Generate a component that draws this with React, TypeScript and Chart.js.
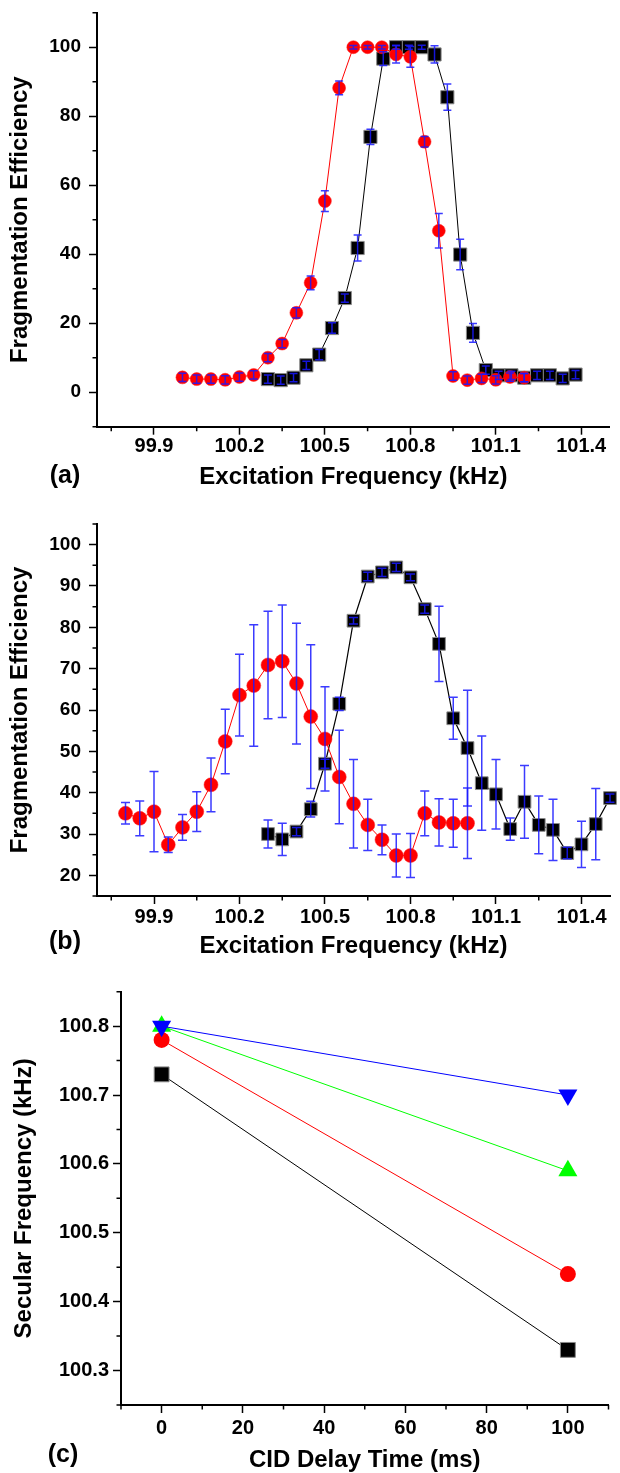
import React, { useEffect, useRef } from "react";
import { Chart, registerables } from "chart.js";

Chart.register(...registerables);

const FONT = "'Liberation Sans', Arial, Helvetica, sans-serif";

// ---------- Panel (a) ----------
const redFreqA = [100.0, 100.05, 100.1, 100.15, 100.2, 100.25, 100.3, 100.35, 100.4, 100.45, 100.5, 100.55, 100.6, 100.65, 100.7, 100.75, 100.8, 100.85, 100.9, 100.95, 101.0, 101.05, 101.1, 101.15, 101.2];
const redEffA = [4.3, 3.8, 3.8, 3.6, 4.4, 5.0, 10.0, 14.1, 23.0, 31.7, 55.4, 88.2, 100, 100, 100, 97.9, 97.2, 72.6, 46.8, 4.7, 3.5, 4.0, 3.6, 4.4, 4.2];
const redErrA = [1.2, 1.2, 1.2, 1.2, 1.2, 1.2, 1.2, 1.2, 1.5, 2.0, 3.0, 2.0, 0.5, 0.5, 0.5, 2.5, 3.0, 1.5, 5.0, 1.2, 1.2, 1.2, 1.2, 1.2, 1.2];
const blackFreqA = [100.3, 100.345, 100.39, 100.435, 100.48, 100.525, 100.57, 100.615, 100.66, 100.705, 100.75, 100.795, 100.84, 100.885, 100.93, 100.975, 101.02, 101.065, 101.11, 101.155, 101.2, 101.245, 101.29, 101.335, 101.38];
const blackEffA = [3.8, 3.5, 4.2, 7.8, 10.9, 18.6, 27.3, 41.8, 74.0, 96.7, 100, 100, 100, 97.9, 85.5, 39.9, 17.2, 6.4, 4.9, 4.9, 4.2, 4.9, 4.9, 4.0, 5.1];
const blackErrA = [1.2, 1.2, 1.2, 1.2, 1.5, 1.5, 1.2, 3.8, 2.2, 2.0, 0.6, 0.6, 0.6, 2.5, 3.8, 4.4, 2.7, 1.2, 1.2, 1.2, 1.2, 1.2, 1.2, 1.2, 1.2];
const xTicksAB = [99.9, 100.2, 100.5, 100.8, 101.1, 101.4];
const xMinorAB = [99.75, 100.05, 100.35, 100.65, 100.95, 101.25];
const yTicksA = [0, 20, 40, 60, 80, 100];
const yMinorA = [-10, 10, 30, 50, 70, 90, 110];

// ---------- Panel (b) ----------
const redFreqB = [99.8, 99.85, 99.9, 99.95, 100.0, 100.05, 100.1, 100.15, 100.2, 100.25, 100.3, 100.35, 100.4, 100.45, 100.5, 100.55, 100.6, 100.65, 100.7, 100.75, 100.8, 100.85, 100.9, 100.95, 101.0];
const redEffB = [35.0, 33.8, 35.4, 27.4, 31.6, 35.4, 41.9, 52.4, 63.6, 65.9, 70.9, 71.8, 66.4, 58.4, 53.0, 43.8, 37.3, 32.2, 28.6, 24.8, 24.8, 35.0, 32.8, 32.6, 32.6];
const redErrB = [2.6, 4.2, 9.7, 1.9, 3.1, 4.8, 6.5, 7.8, 9.9, 14.7, 13.0, 13.6, 14.6, 17.4, 12.6, 11.3, 10.7, 6.2, 3.6, 5.2, 5.3, 5.4, 5.7, 5.8, 8.5];
const blackFreqB = [100.3, 100.35, 100.4, 100.45, 100.5, 100.55, 100.6, 100.65, 100.7, 100.75, 100.8, 100.85, 100.9, 100.95, 101.0, 101.05, 101.1, 101.15, 101.2, 101.25, 101.3, 101.35, 101.4, 101.45, 101.5];
const blackEffB = [30.0, 28.7, 30.6, 36.0, 47.0, 61.5, 81.6, 92.3, 93.3, 94.5, 92.1, 84.4, 76.0, 58.0, 50.8, 42.3, 39.6, 31.2, 37.8, 32.2, 31.0, 25.4, 27.5, 32.4, 38.7];
const blackErrB = [3.4, 3.9, 1.0, 1.9, 1.1, 1.6, 0.8, 1.0, 1.0, 1.0, 0.8, 1.0, 9.1, 5.1, 14.0, 11.4, 8.4, 2.7, 8.8, 7.0, 7.4, 1.4, 5.6, 8.6, 1.0];
const yTicksB = [20, 30, 40, 50, 60, 70, 80, 90, 100];
const yMinorB = [15, 25, 35, 45, 55, 65, 75, 85, 95, 105];

// ---------- Panel (c) ----------
const delayTimes = [0, 100];
const secularBlack = [100.73, 100.33];
const secularRed = [100.78, 100.44];
const secularGreen = [100.8, 100.59];
const secularBlue = [100.8, 100.7];
const xTicksC = [0, 20, 40, 60, 80, 100];
const xMinorC = [-10, 10, 30, 50, 70, 90, 110];
const yTicksC = [100.3, 100.4, 100.5, 100.6, 100.7, 100.8];
const yMinorC = [100.25, 100.35, 100.45, 100.55, 100.65, 100.75, 100.85];

const toPts = (xs: number[], ys: number[]) => xs.map((x, i) => ({ x, y: ys[i] }));

const errorBarsPlugin = {
  id: "errorBars",
  afterDatasetsDraw(chart: any, _args: any, opts: any) {
    const ctx = chart.ctx;
    const ys = chart.scales.y;
    const cap = opts.cap ?? 4.5;
    ctx.save();
    ctx.strokeStyle = opts.color || "rgba(30,30,255,0.85)";
    ctx.lineWidth = opts.width || 1.5;
    chart.data.datasets.forEach((ds: any, i: number) => {
      const errs: number[] | undefined = ds.errors;
      if (!errs) return;
      const meta = chart.getDatasetMeta(i);
      meta.data.forEach((pt: any, j: number) => {
        const v = ds.data[j].y;
        const e = errs[j];
        const x = pt.x;
        const yt = ys.getPixelForValue(v + e);
        const yb = ys.getPixelForValue(v - e);
        ctx.beginPath();
        ctx.moveTo(x, yt);
        ctx.lineTo(x, yb);
        ctx.moveTo(x - cap, yt);
        ctx.lineTo(x + cap, yt);
        ctx.moveTo(x - cap, yb);
        ctx.lineTo(x + cap, yb);
        ctx.stroke();
      });
    });
    ctx.restore();
  },
};

const minorTicksPlugin = {
  id: "minorTicks",
  afterDraw(chart: any, _args: any, opts: any) {
    const ctx = chart.ctx;
    const { left, bottom } = chart.chartArea;
    const len = opts.length ?? 4.5;
    ctx.save();
    ctx.strokeStyle = "#000";
    ctx.lineWidth = 1.5;
    ctx.beginPath();
    (opts.x || []).forEach((v: number) => {
      const px = chart.scales.x.getPixelForValue(v);
      ctx.moveTo(px, bottom);
      ctx.lineTo(px, bottom + len);
    });
    (opts.y || []).forEach((v: number) => {
      const py = chart.scales.y.getPixelForValue(v);
      ctx.moveTo(left, py);
      ctx.lineTo(left - len, py);
    });
    ctx.stroke();
    ctx.restore();
  },
};

const panelLabelPlugin = {
  id: "panelLabel",
  afterDraw(chart: any, _args: any, opts: any) {
    if (!opts.text) return;
    const ctx = chart.ctx;
    ctx.save();
    ctx.fillStyle = "#000";
    ctx.font = `bold ${opts.size || 24}px ${FONT}`;
    ctx.textAlign = "center";
    ctx.textBaseline = "middle";
    ctx.fillText(opts.text, opts.x, opts.y);
    ctx.restore();
  },
};

type AxisSpec = {
  min: number;
  max: number;
  ticks: number[];
  decimals: number;
  title: string;
  fontSize: number;
  labelPadding: number;
  titlePadding: number;
  size: number;
};

function makeOptions(p: {
  x: AxisSpec;
  y: AxisSpec;
  padTop: number;
  padRight: number;
  xMinor: number[];
  yMinor: number[];
  label: { text: string; x: number; y: number };
  cap: number;
}) {
  const axisCommon = (a: AxisSpec, isX: boolean) => ({
    type: "linear",
    min: a.min,
    max: a.max,
    afterBuildTicks: (scale: any) => {
      scale.ticks = a.ticks.map((v) => ({ value: v }));
    },
    afterFit: (scale: any) => {
      if (isX) scale.height = a.size;
      else scale.width = a.size;
      scale.paddingTop = 0;
      scale.paddingBottom = 0;
      scale.paddingLeft = 0;
      scale.paddingRight = 0;
    },
    border: { display: true, color: "#000", width: 2 },
    grid: {
      display: true,
      drawOnChartArea: false,
      drawTicks: true,
      tickLength: 8,
      tickWidth: 1.5,
      tickColor: "#000",
    },
    ticks: {
      autoSkip: false,
      maxRotation: 0,
      minRotation: 0,
      padding: a.labelPadding,
      color: "#000",
      font: { family: FONT, size: a.fontSize, weight: "bold" },
      callback: (v: any) => Number(v).toFixed(a.decimals),
    },
    title: {
      display: true,
      text: a.title,
      color: "#000",
      font: { family: FONT, size: 24, weight: "bold", lineHeight: 1 },
      padding: isX ? { top: 0, bottom: a.titlePadding } : { top: a.titlePadding, bottom: 0 },
    },
  });
  return {
    responsive: false,
    animation: false,
    devicePixelRatio: 1,
    events: [],
    layout: { padding: { top: p.padTop, right: p.padRight, left: 0, bottom: 0 } },
    plugins: {
      legend: { display: false },
      tooltip: { enabled: false },
      errorBars: { cap: p.cap, color: "rgba(25,25,255,0.85)", width: 1.5 },
      minorTicks: { x: p.xMinor, y: p.yMinor, length: 4.5 },
      panelLabel: { text: p.label.text, x: p.label.x, y: p.label.y, size: 25 },
    },
    scales: {
      x: axisCommon(p.x, true),
      y: axisCommon(p.y, false),
    },
  };
}

function ChartCanvas({ top, height, config }: { top: number; height: number; config: any }) {
  const ref = useRef<HTMLCanvasElement | null>(null);
  useEffect(() => {
    if (!ref.current) return;
    const chart = new Chart(ref.current, config);
    return () => chart.destroy();
  }, []);
  return (
    <canvas
      ref={ref}
      width={620}
      height={height}
      style={{ position: "absolute", left: 0, top, width: 620, height, display: "block" }}
    />
  );
}

const plugins = [errorBarsPlugin, minorTicksPlugin, panelLabelPlugin];

const squareStyle = {
  pointStyle: "rect",
  pointBackgroundColor: "#000",
  pointBorderColor: "#8a8a8a",
  pointBorderWidth: 1,
};

const configA = {
  type: "line",
  plugins,
  data: {
    datasets: [
      {
        data: toPts(redFreqA, redEffA),
        errors: redErrA,
        borderColor: "#ff0000",
        borderWidth: 1,
        pointStyle: "circle",
        pointRadius: 6.5,
        pointBackgroundColor: "#ff0000",
        pointBorderColor: "#ff2020",
        pointBorderWidth: 0.5,
        clip: false,
      },
      {
        data: toPts(blackFreqA, blackEffA),
        errors: blackErrA,
        borderColor: "#000",
        borderWidth: 1,
        pointRadius: 9.3,
        ...squareStyle,
        clip: false,
      },
    ],
  },
  options: makeOptions({
    x: { min: 99.7, max: 101.5, ticks: xTicksAB, decimals: 1, title: "Excitation Frequency (kHz)", fontSize: 20, labelPadding: 0, titlePadding: 6, size: 68.3 },
    y: { min: -10, max: 110, ticks: yTicksA, decimals: 0, title: "Fragmentation Efficiency", fontSize: 19, labelPadding: 8, titlePadding: 8.5, size: 97 },
    padTop: 12.7,
    padRight: 2,
    xMinor: xMinorAB,
    yMinor: yMinorA,
    label: { text: "(a)", x: 65, y: 476 },
    cap: 4,
  }),
};

const configB = {
  type: "line",
  plugins,
  data: {
    datasets: [
      {
        data: toPts(redFreqB, redEffB),
        errors: redErrB,
        borderColor: "#ff0000",
        borderWidth: 1,
        pointStyle: "circle",
        pointRadius: 7,
        pointBackgroundColor: "#ff0000",
        pointBorderColor: "#ff2020",
        pointBorderWidth: 0.5,
        clip: false,
      },
      {
        data: toPts(blackFreqB, blackEffB),
        errors: blackErrB,
        borderColor: "#000",
        borderWidth: 1.2,
        pointRadius: 9,
        ...squareStyle,
        clip: false,
      },
    ],
  },
  options: makeOptions({
    x: { min: 99.7, max: 101.5, ticks: xTicksAB, decimals: 1, title: "Excitation Frequency (kHz)", fontSize: 20, labelPadding: 1, titlePadding: 6.3, size: 69 },
    y: { min: 15, max: 105, ticks: yTicksB, decimals: 0, title: "Fragmentation Efficiency", fontSize: 19, labelPadding: 8, titlePadding: 8.5, size: 97 },
    padTop: 29,
    padRight: 2,
    xMinor: xMinorAB,
    yMinor: yMinorB,
    label: { text: "(b)", x: 65, y: 447 },
    cap: 4.5,
  }),
};

const configC = {
  type: "line",
  plugins,
  data: {
    datasets: [
      {
        data: toPts(delayTimes, secularBlue),
        borderColor: "#0000ff",
        borderWidth: 1,
        pointStyle: "triangle",
        rotation: 180,
        pointRotation: 180,
        pointRadius: 11,
        pointBackgroundColor: "#0000ff",
        pointBorderColor: "#0000ff",
        pointBorderWidth: 0,
        clip: false,
      },
      {
        data: toPts(delayTimes, secularGreen),
        borderColor: "#00ff00",
        borderWidth: 1,
        pointStyle: "triangle",
        pointRadius: 11,
        pointBackgroundColor: "#00ff00",
        pointBorderColor: "#00ff00",
        pointBorderWidth: 0,
        clip: false,
      },
      {
        data: toPts(delayTimes, secularRed),
        borderColor: "#ff0000",
        borderWidth: 1,
        pointStyle: "circle",
        pointRadius: 8,
        pointBackgroundColor: "#ff0000",
        pointBorderColor: "#ff0000",
        pointBorderWidth: 0,
        clip: false,
      },
      {
        data: toPts(delayTimes, secularBlack),
        borderColor: "#000",
        borderWidth: 1,
        pointStyle: "rect",
        pointRadius: 10.5,
        pointBackgroundColor: "#000",
        pointBorderColor: "#888",
        pointBorderWidth: 1,
        clip: false,
      },
    ],
  },
  options: makeOptions({
    x: { min: -10, max: 110, ticks: xTicksC, decimals: 0, title: "CID Delay Time (ms)", fontSize: 20, labelPadding: 3.3, titlePadding: 1, size: 68 },
    y: { min: 100.25, max: 100.85, ticks: yTicksC, decimals: 1, title: "Secular Frequency (kHz)", fontSize: 20, labelPadding: 4, titlePadding: 12, size: 121 },
    padTop: 26.7,
    padRight: 0,
    xMinor: xMinorC,
    yMinor: yMinorC,
    label: { text: "(c)", x: 63, y: 490 },
    cap: 4,
  }),
};

export default function App() {
  return (
    <div style={{ position: "absolute", left: 0, top: 0, width: 620, height: 1473, background: "#fff", overflow: "hidden" }}>
      <ChartCanvas top={0} height={495} config={configA} />
      <ChartCanvas top={495} height={470} config={configB} />
      <ChartCanvas top={965} height={508} config={configC} />
    </div>
  );
}
